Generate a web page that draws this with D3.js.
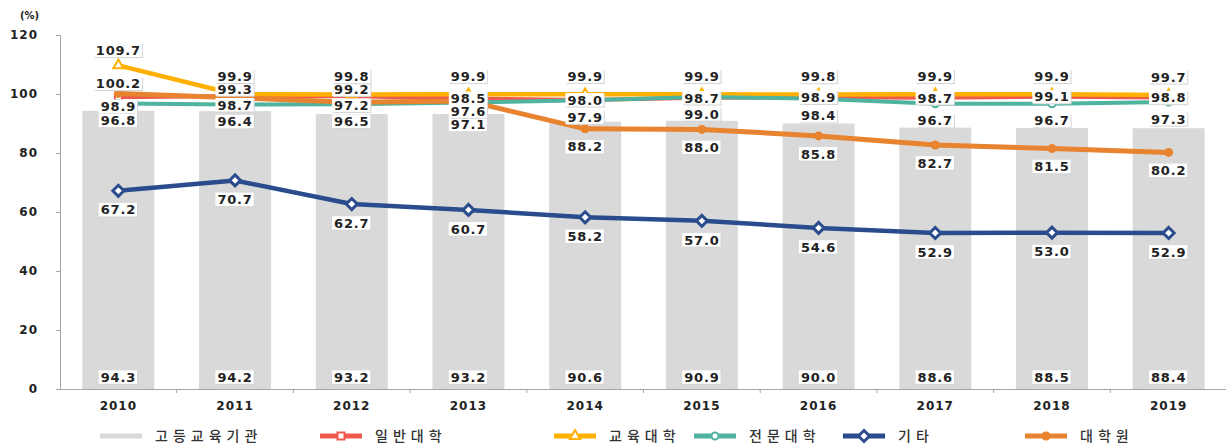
<!DOCTYPE html>
<html>
<head>
<meta charset="utf-8">
<script src="https://cdn.jsdelivr.net/npm/d3@7"></script>
<style>
  body { margin: 0; background: #fff; }
  svg { display: block; }
</style>
</head>
<body>
<div id="chart"></div>
<script>
// Data
const years = ['2010', '2011', '2012', '2013', '2014', '2015', '2016', '2017', '2018', '2019']
const higherEdu = [94.3, 94.2, 93.2, 93.2, 90.6, 90.9, 90.0, 88.6, 88.5, 88.4]   // 고등교육기관
const univ = [98.9, 99.3, 99.2, 98.5, 98.0, 98.7, 98.9, 98.7, 99.1, 98.8]        // 일반대학
const eduUniv = [109.7, 99.9, 99.8, 99.9, 99.9, 99.9, 99.8, 99.9, 99.9, 99.7]    // 교육대학
const college = [96.8, 96.4, 96.5, 97.1, 97.9, 99.0, 98.4, 96.7, 96.7, 97.3]     // 전문대학
const others = [67.2, 70.7, 62.7, 60.7, 58.2, 57.0, 54.6, 52.9, 53.0, 52.9]      // 기타
const gradSchool = [100.2, 98.7, 97.2, 97.6, 88.2, 88.0, 85.8, 82.7, 81.5, 80.2] // 대학원
const yTicks = [0, 20, 40, 60, 80, 100, 120]

const width = 1226
const height = 445
const margin = { top: 35, right: 0, bottom: 57, left: 60 }

// Series styles (drawing order like the original chart)
const series = [
  { name: '일반대학', values: univ, color: '#EF5A4D', width: 4, marker: 'square', labelDy: 0 },
  { name: '교육대학', values: eduUniv, color: '#FFB000', width: 4.5, marker: 'triangle', labelDy: -18 },
  { name: '전문대학', values: college, color: '#4FB3A0', width: 4, marker: 'circle', labelDy: 17 },
  { name: '기타', values: others, color: '#2A4C8C', width: 4.5, marker: 'diamond', labelDy: 19 },
  { name: '대학원', values: gradSchool, color: '#E8832F', width: 5, marker: 'dot', labelDy: 18 }
]

// hand-placed labels in the years where the lines crowd together
const labelNudge = {
  '일반대학': { 2010: 9, 2011: -7, 2012: -7 },
  '교육대학': { 2010: -15 },
  '전문대학': { 2013: 22 },
  '대학원': { 2010: -10, 2011: 7, 2012: 3, 2013: 10 }
}

const svg = d3.select('#chart')
  .append('svg')
  .attr('width', width)
  .attr('height', height)

const x = d3.scaleBand()
  .domain(years)
  .range([margin.left, 1227])

const y = d3.scaleLinear()
  .domain([0, 120])
  .range([height - margin.bottom + 1, margin.top])

const cx = d => x(d) + x.bandwidth() / 2

// Bars
svg.append('g')
  .selectAll('rect')
  .data(higherEdu)
  .join('rect')
  .attr('x', (d, i) => cx(years[i]) - 36)
  .attr('width', 72)
  .attr('y', d => y(d))
  .attr('height', d => y(0) - y(d))
  .attr('fill', '#D9D9D9')

// Y axis
svg.append('g')
  .attr('transform', `translate(${margin.left},0)`)
  .call(d3.axisLeft(y).tickValues(yTicks).tickSize(4).tickPadding(18))
  .call(g => g.select('.domain').attr('stroke', '#A6A6A6'))
  .call(g => g.selectAll('.tick line').attr('stroke', '#A6A6A6'))
  .call(g => g.selectAll('.tick text')
    .attr('font-family', 'DejaVu Sans')
    .attr('font-weight', 'bold')
    .attr('font-size', 12)
    .attr('letter-spacing', 1)
    .attr('fill', '#222'))

// X axis
svg.append('g')
  .attr('transform', `translate(0,${y(0)})`)
  .call(d3.axisBottom(x).tickSize(0).tickPadding(12))
  .call(g => g.select('.domain').attr('stroke', '#A6A6A6'))
  .call(g => g.selectAll('.tick text')
    .attr('font-family', 'DejaVu Sans')
    .attr('font-weight', 'bold')
    .attr('font-size', 12)
    .attr('letter-spacing', 1)
    .attr('fill', '#222'))

// category boundary ticks
svg.append('g')
  .selectAll('line')
  .data(years.slice(1))
  .join('line')
  .attr('x1', d => x(d))
  .attr('x2', d => x(d))
  .attr('y1', y(0))
  .attr('y2', y(0) + 4)
  .attr('stroke', '#A6A6A6')

svg.append('text')
  .attr('x', 20)
  .attr('y', 19)
  .attr('font-family', 'DejaVu Sans')
  .attr('font-weight', 'bold')
  .attr('font-size', 10)
  .attr('fill', '#222')
  .text('(%)')

function drawMarker(g, type, color, px, py) {
  if (type === 'square') {
    g.append('rect').attr('x', px - 3.5).attr('y', py - 3.5).attr('width', 7).attr('height', 7)
      .attr('fill', '#fff').attr('stroke', color).attr('stroke-width', 2)
  } else if (type === 'triangle') {
    g.append('path').attr('d', d3.symbol(d3.symbolTriangle, 45)())
      .attr('transform', `translate(${px},${py})`)
      .attr('fill', '#fff').attr('stroke', color).attr('stroke-width', 2)
  } else if (type === 'circle') {
    g.append('circle').attr('cx', px).attr('cy', py).attr('r', 3.5)
      .attr('fill', '#fff').attr('stroke', color).attr('stroke-width', 2)
  } else if (type === 'diamond') {
    g.append('path').attr('d', 'M0,-5.5L5.5,0L0,5.5L-5.5,0Z')
      .attr('transform', `translate(${px},${py})`)
      .attr('fill', '#fff').attr('stroke', color).attr('stroke-width', 3)
  } else if (type === 'dot') {
    g.append('circle').attr('cx', px).attr('cy', py).attr('r', 4.5)
      .attr('fill', color)
  }
}

// Lines
const line = d3.line()
  .x((d, i) => cx(years[i]))
  .y(d => y(d))

series.forEach(s => {
  const g = svg.append('g')
  g.append('path')
    .datum(s.values)
    .attr('fill', 'none')
    .attr('stroke', s.color)
    .attr('stroke-width', s.width)
    .attr('stroke-linejoin', 'round')
    .attr('d', line)
  s.values.forEach((v, i) => drawMarker(g, s.marker, s.color, cx(years[i]), y(v)))
})

// Data labels with white boxes
const labelLayer = svg.append('g')

function addLabel(px, py, txt) {
  const g = labelLayer.append('g')
  const t = g.append('text')
    .attr('x', px)
    .attr('y', py)
    .attr('dy', '0.36em')
    .attr('text-anchor', 'middle')
    .attr('font-family', 'DejaVu Sans')
    .attr('font-weight', 'bold')
    .attr('font-size', 13)
    .attr('letter-spacing', 0.8)
    .attr('fill', '#222')
    .text(txt)
  const b = t.node().getBBox()
  g.insert('rect', 'text')
    .attr('x', b.x - 1).attr('y', b.y + 1)
    .attr('width', b.width + 3).attr('height', b.height - 1)
    .attr('fill', '#d4d4d4')
  g.insert('rect', 'text')
    .attr('x', b.x - 2).attr('y', b.y + 0.5)
    .attr('width', b.width + 3).attr('height', b.height - 1.5)
    .attr('fill', '#fff')
}

higherEdu.forEach((v, i) => addLabel(cx(years[i]), y(4), v.toFixed(1)))

series.forEach(s => {
  s.values.forEach((v, i) => {
    const nudge = labelNudge[s.name] && labelNudge[s.name][years[i]]
    const dy = nudge !== undefined ? nudge : s.labelDy
    addLabel(cx(years[i]), y(v) + dy, v.toFixed(1))
  })
})

// Legend
const legendItems = [
  { name: '고등교육기관', color: '#D9D9D9', marker: null, x: 100 },
  { name: '일반대학', color: series[0].color, marker: 'square', x: 320 },
  { name: '교육대학', color: series[1].color, marker: 'triangle', x: 554 },
  { name: '전문대학', color: series[2].color, marker: 'circle', x: 694 },
  { name: '기타', color: series[3].color, marker: 'diamond', x: 843 },
  { name: '대학원', color: series[4].color, marker: 'dot', x: 1025 }
]

const legend = svg.append('g').attr('transform', 'translate(0,436)')
legendItems.forEach(item => {
  const g = legend.append('g')
  g.append('line')
    .attr('x1', item.x).attr('x2', item.x + 42)
    .attr('y1', 0).attr('y2', 0)
    .attr('stroke', item.color)
    .attr('stroke-width', 5)
  if (item.marker) drawMarker(g, item.marker, item.color, item.x + 21, 0)
  g.append('text')
    .attr('x', item.x + 55)
    .attr('y', 0)
    .attr('dy', '0.36em')
    .attr('font-family', 'Noto Sans CJK KR')
    .attr('font-weight', 500)
    .attr('font-size', 14)
    .attr('letter-spacing', 5)
    .attr('fill', '#333')
    .text(item.name)
})
</script>
</body>
</html>
